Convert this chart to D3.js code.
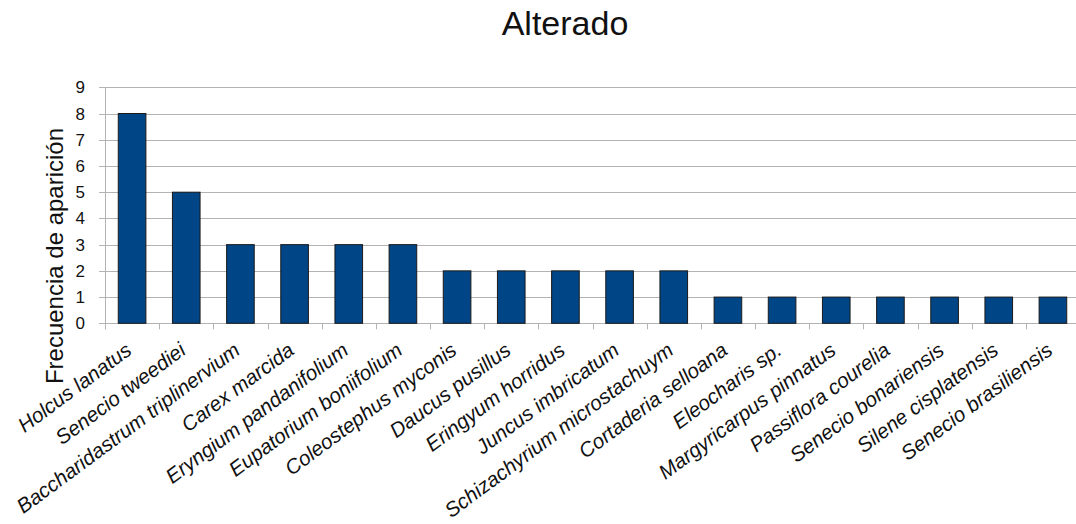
<!DOCTYPE html>
<html><head><meta charset="utf-8">
<script src="https://cdn.jsdelivr.net/npm/d3@7"></script>
<style>body{margin:0;background:#fff;} svg{display:block;font-family:"Liberation Sans",Arial,sans-serif;}</style>
</head><body>
<svg id="chart" width="1076" height="524"></svg>
<script>
const categories = ["Holcus lanatus","Senecio tweediei","Baccharidastrum triplinervium","Carex marcida","Eryngium pandanifolium","Eupatorium boniifolium","Coleostephus myconis","Daucus pusillus","Eringyum horridus","Juncus imbricatum","Schizachyrium microstachuym","Cortaderia selloana","Eleocharis sp.","Margyricarpus pinnatus","Passiflora courelia","Senecio bonariensis","Silene cisplatensis","Senecio brasiliensis"];
const values = [8,5,3,3,3,3,2,2,2,2,2,1,1,1,1,1,1,1];
const yTicks = [0,1,2,3,4,5,6,7,8,9];
const title = "Alterado";
const yTitle = "Frecuencia de aparición";

const svg = d3.select("#chart");
const pLeft = 105, pRight = 1080, pTop = 87.3, pBottom = 323.3;
const grid = "#b3b3b3";

const x = d3.scaleBand().domain(categories).range([pLeft, pRight]).paddingInner(0.49).paddingOuter(0.245);
const xb = d3.scaleBand().domain(categories).range([pLeft, pRight]).padding(0);
const y = d3.scaleLinear().domain([0, 9]).range([pBottom, pTop]);

// gridlines
svg.append("g").selectAll("line").data(yTicks).join("line")
  .attr("x1", pLeft - 6).attr("x2", pRight)
  .attr("y1", d => Math.round(y(d)) + 0.5).attr("y2", d => Math.round(y(d)) + 0.5)
  .attr("stroke", grid).attr("stroke-width", 1);

// y axis line
svg.append("line").attr("x1", pLeft + 0.5).attr("x2", pLeft + 0.5)
  .attr("y1", y(9)).attr("y2", pBottom + 6).attr("stroke", grid);

// x ticks at band boundaries
const bounds = categories.map(c => xb(c)).concat([pRight]);
svg.append("g").selectAll("line").data(bounds).join("line")
  .attr("x1", d => Math.round(d) + 0.5).attr("x2", d => Math.round(d) + 0.5)
  .attr("y1", pBottom).attr("y2", pBottom + 6).attr("stroke", grid);

// y tick labels
svg.append("g").selectAll("text").data(yTicks).join("text")
  .attr("x", 85).attr("y", d => y(d) + 6)
  .attr("text-anchor", "end").attr("font-size", 17).attr("fill", "#111")
  .text(d => d);

// bars
svg.append("g").selectAll("rect").data(values).join("rect")
  .attr("x", (d, i) => x(categories[i]))
  .attr("y", d => y(d))
  .attr("width", x.bandwidth())
  .attr("height", d => y(0) - y(d))
  .attr("fill", "#004586").attr("stroke", "#1a1a1a").attr("stroke-width", 1);

// x labels
svg.append("g").selectAll("text").data(categories).join("text")
  .attr("transform", d => `translate(${x(d) + x.bandwidth()/2 + 1},353) rotate(-36.5)`)
  .attr("text-anchor", "end").attr("font-size", 20.6).attr("font-style", "italic").attr("fill", "#111")
  .text(d => d);

// title
svg.append("text").attr("x", 565).attr("y", 35).attr("text-anchor", "middle")
  .attr("font-size", 34).attr("fill", "#111").text(title);

// y title
svg.append("text").attr("transform", "translate(63,256) rotate(-90)")
  .attr("text-anchor", "middle").attr("font-size", 24).attr("fill", "#111").text(yTitle);
</script>
</body></html>
